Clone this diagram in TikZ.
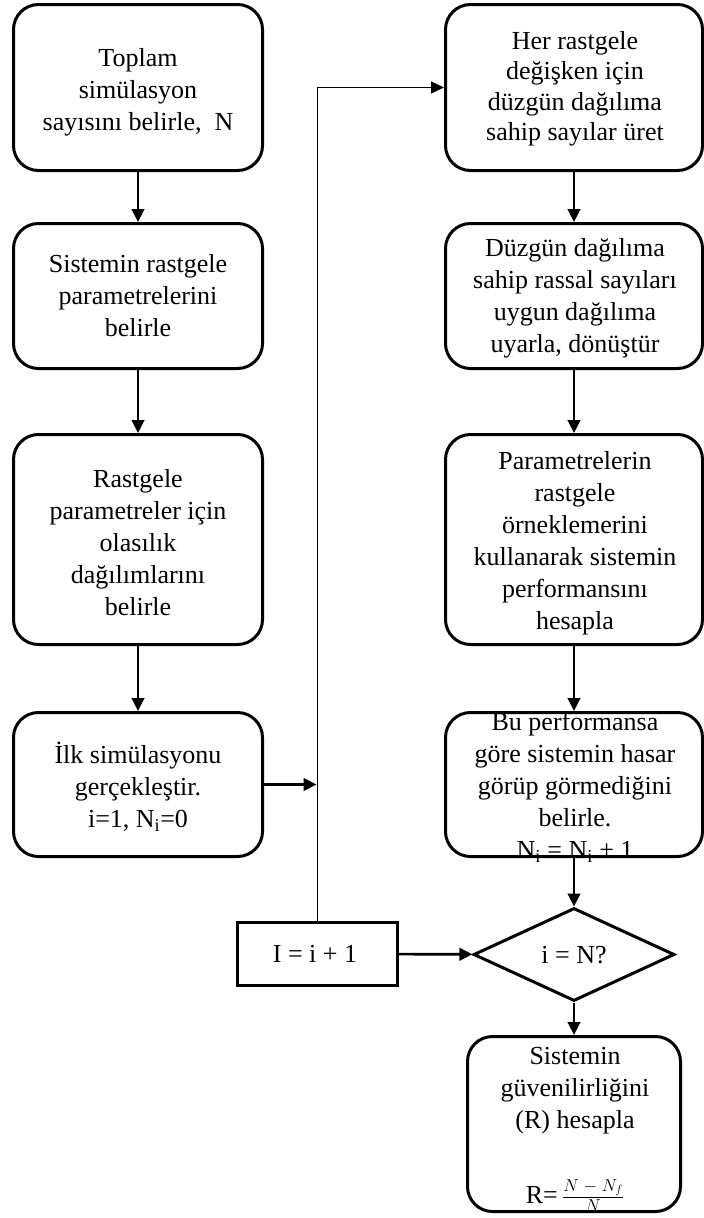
\documentclass[tikz,border=0pt]{standalone}
\usepackage{fontspec}
\setmainfont{Liberation Serif}
\usetikzlibrary{shapes.geometric,arrows.meta}

\begin{document}
\begin{tikzpicture}[x=1pt,y=-1pt,
  stepbox/.style={draw=black,line width=3pt,rounded corners=25pt,inner sep=0pt},
  plainbox/.style={draw=black,line width=3pt,inner sep=0pt},
  decision/.style={diamond,draw=black,line width=3pt,inner sep=0pt},
  txt/.style={align=center,font=\fontsize{26}{32}\selectfont,inner sep=0pt},
  flow/.style={line width=2.6pt,-{Triangle[length=13pt,width=12.5pt]}},
  loopline/.style={line width=1.2pt,-{Triangle[length=13pt,width=12pt]}},
]
\useasboundingbox (0,0) rectangle (704,1218);

% left column
\node[stepbox,minimum width=249pt,minimum height=166pt] (l1) at (138,87.5) {};
\node[stepbox,minimum width=249pt,minimum height=145pt] (l2) at (138,296) {};
\node[stepbox,minimum width=249pt,minimum height=210pt] (l3) at (138,539.5) {};
\node[stepbox,minimum width=249pt,minimum height=144pt] (l4) at (138,784.5) {};

% right column
\node[stepbox,minimum width=257pt,minimum height=166pt] (r1) at (574,87.5) {};
\node[stepbox,minimum width=257pt,minimum height=145pt] (r2) at (574,296) {};
\node[stepbox,minimum width=257pt,minimum height=210pt] (r3) at (574,539.5) {};
\node[stepbox,minimum width=257pt,minimum height=144pt] (r4) at (574,784.5) {};

% counter, test and result
\node[plainbox,minimum width=160pt,minimum height=63pt] (inc) at (317.5,954) {};
\node[decision,minimum width=201pt,minimum height=93pt] (dia) at (574,954.5) {};
\node[stepbox,minimum width=213pt,minimum height=175pt] (res) at (574,1124) {};

% texts
\node[txt] (l1t) at (138,92) {Toplam\\simülasyon\\sayısını belirle,\ \ N};
\node[txt] (l2t) at (138,296) {Sistemin rastgele\\parametrelerini\\belirle};
\node[txt] (l3t) at (138,543) {Rastgele\\parametreler için\\olasılık\\dağılımlarını\\belirle};
\node[txt] (l4t) at (138,787) {İlk simülasyonu\\gerçekleştir.\\i=1, N\textsubscript{i}=0};

\node[txt,font=\fontsize{26}{30.5}\selectfont] (r1t) at (575,89) {Her rastgele\\değişken için\\düzgün dağılıma\\sahip sayılar üret};
\node[txt] (r2t) at (575,298) {Düzgün dağılıma\\sahip rassal sayıları\\uygun dağılıma\\uyarla, dönüştür};
\node[txt] (r3t) at (575,543) {Parametrelerin\\rastgele\\örneklemerini\\kullanarak sistemin\\performansını\\hesapla};
\node[txt] (r4t) at (575,787) {Bu performansa\\göre sistemin hasar\\görüp görmediğini\\belirle.\\N\textsubscript{i} = N\textsubscript{i} + 1};

\node[txt] (inct) at (315,954) {I = i + 1};
\node[txt] (diat) at (574,955) {i = N?};
\node[txt] (rest) at (575,1091) {Sistemin\\güvenilirliğini\\(R) hesapla};
\node[txt,anchor=base] (resf) at (575,1203) {R=\,\(\frac{N\mkern5mu-\mkern5mu N_f}{N}\)};

% connectors
\coordinate (join) at (316.5,784.5);
\draw[flow] (l1) -- (l2);
\draw[flow] (l2) -- (l3);
\draw[flow] (l3) -- (l4);
\draw[flow] (l4) -- (join);
\draw[flow] (r1) -- (r2);
\draw[flow] (r2) -- (r3);
\draw[flow] (r3) -- (r4);
\draw[flow] (r4) -- (dia);
\draw[flow] (inc) -- (dia);
\draw[flow] (dia) -- (res);
\draw[loopline] (inc.north) |- (r1.west);
\end{tikzpicture}
\end{document}
